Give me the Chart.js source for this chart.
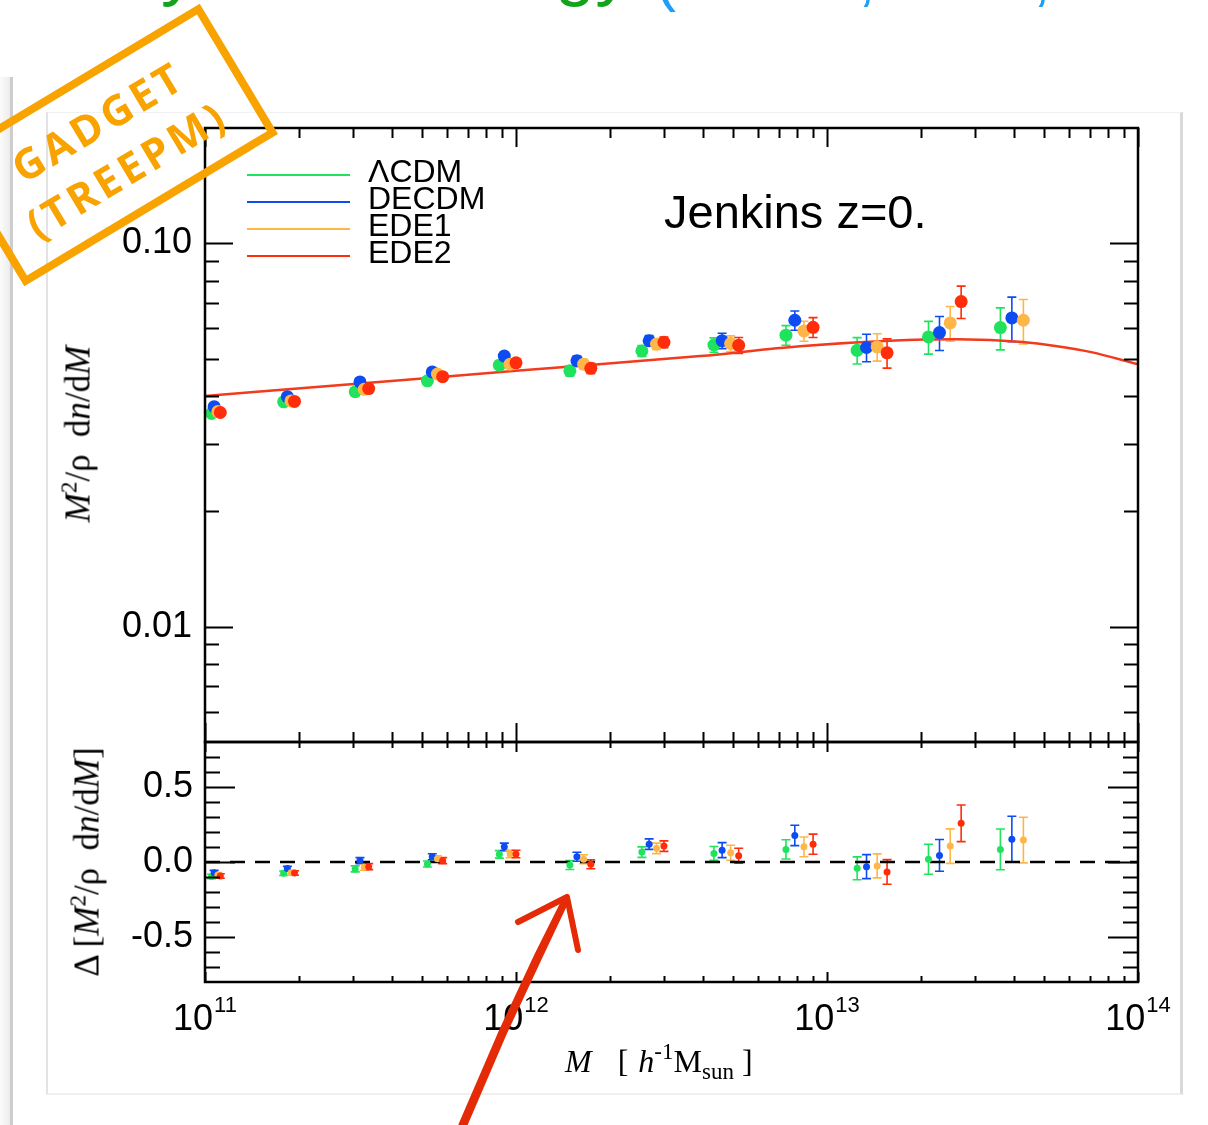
<!DOCTYPE html>
<html lang="en">
<head>
<meta charset="utf-8">
<title>Jenkins z=0 - mass function</title>
<script src="https://cdn.jsdelivr.net/npm/chart.js@4.4.1/dist/chart.umd.min.js"></script>
<style>
  html, body { margin: 0; padding: 0; background: #fff; }
  body { position: relative; width: 1208px; height: 1125px; overflow: hidden; font-family: "Liberation Sans", Arial, sans-serif; }
  .abs { position: absolute; white-space: nowrap; }
  #leftBar { left: 0; top: 77px; width: 10px; height: 1048px; background: linear-gradient(to right, #fbfbfb, #ececec); border-right: 3px solid #cdcdcd; z-index: 0; }
  #card { left: 46px; top: 112px; width: 1137px; height: 983px; box-sizing: border-box; border-left: 2px solid #e3e3e3; border-top: 1px solid #f1f1f1; border-right: 3px solid #d9d9d9; border-bottom: 2px solid #efefef; z-index: 0; }
  canvas { position: absolute; left: 0; z-index: 1; }
  #topChart { top: 0; }
  #bottomChart { top: 700px; }
  .heading { line-height: 1; z-index: 2; }
  .green { color: #14a31c; }
  .blue { color: #1e9dfb; }
  #jenkins { left: 664px; top: 188px; font-size: 47px; line-height: 47px; color: #000; z-index: 2; }
  .legLine { position: absolute; left: 247px; width: 103px; height: 2px; z-index: 2; }
  .legText { position: absolute; left: 368px; font-size: 32px; line-height: 32px; color: #000; z-index: 2; }
  .serif { font-family: "Liberation Serif", "Times New Roman", serif; color: #000; z-index: 2; }
  .serif sup { font-size: 23px; position: relative; top: -13px; vertical-align: baseline; }
  .serif sub { font-size: 23px; position: relative; top: 7px; vertical-align: baseline; }
  .gap { display: inline-block; }
  #xTitle { left: 565px; top: 1045px; font-size: 32px; line-height: 32px; }
  .yTitle { font-size: 35px; line-height: 35px; transform: translate(-50%, -50%) rotate(-90deg); }
  #yTitleTop { left: 80px; top: 434px; }
  #yTitleBottom { left: 89px; top: 862px; }
  #stamp { left: 112px; top: 145px; width: 280px; height: 136px; border: 8px solid #f8a300; color: #f8a300;
           transform: translate(-50%, -50%) rotate(-31deg); font-family: "Open Sans", sans-serif; font-weight: 700;
           font-size: 42px; line-height: 56px; letter-spacing: 4px; text-align: center; display: flex;
           flex-direction: column; justify-content: center; z-index: 3; }
  #arrow { position: absolute; left: 0; top: 0; z-index: 3; }
</style>
</head>
<body>
<div id="leftBar" class="abs"></div>
<div id="card" class="abs"></div>

<div class="abs heading green" style="left:33px; top:-69px; font-size:72px;">Early</div>
<div class="abs heading green" style="left:231px; top:-69px; font-size:72px;">Dark Energy</div>
<div class="abs heading blue" style="left:655px; top:-54px; font-size:63px;">(Grossi, Baldi, Mainini)</div>

<canvas id="topChart" width="1208" height="800"></canvas>
<canvas id="bottomChart" width="1208" height="425"></canvas>

<div id="legend"></div>
<div id="jenkins" class="abs">Jenkins z=0.</div>

<div id="yTitleTop" class="abs serif yTitle"><i>M</i><sup>2</sup>/ρ&nbsp;&nbsp;d<i>n</i>/d<i>M</i></div>
<div id="yTitleBottom" class="abs serif yTitle">Δ [<i>M</i><sup>2</sup>/ρ&nbsp;&nbsp;d<i>n</i>/d<i>M</i>]</div>
<div id="xTitle" class="abs serif"><i>M</i><span class="gap" style="width:26px"></span>[<span class="gap" style="width:10px"></span><i>h</i><sup>-1</sup>M<sub>sun</sub><span class="gap" style="width:8px"></span>]</div>

<div id="stamp" class="abs"><div>GADGET</div><div>(TREEPM)</div></div>

<svg id="arrow" width="1208" height="1125">
  <g fill="none" stroke="#e42a06" stroke-linecap="round" stroke-linejoin="round">
    <path d="M462 1125 L503 1030 L538 955 L566 899" stroke-width="7"/>
    <path d="M466 1125 L506 1032 L541 957 L567 902" stroke-width="3"/>
    <path d="M518 922 L567 897 L578 950" stroke-width="6"/>
  </g>
</svg>

<script>
// Legend / series
const seriesNames  = ['ΛCDM', 'DECDM', 'EDE1', 'EDE2'];
const seriesColors = ['#1fe35c', '#0d4cf0', '#ffb648', '#ff2d0a'];

// Halo mass of each bin [h^-1 Msun]
const massLCDM  = [1.05e11, 1.79e11, 3.04e11, 5.19e11, 8.84e11, 1.49e12, 2.54e12, 4.33e12, 7.38e12, 1.25e13, 2.12e13, 3.61e13];
const massDECDM = [1.07e11, 1.84e11, 3.15e11, 5.38e11, 9.17e11, 1.57e12, 2.68e12, 4.60e12, 7.88e12, 1.34e13, 2.30e13, 3.93e13];
const massEDE1  = [1.10e11, 1.89e11, 3.25e11, 5.59e11, 9.57e11, 1.65e12, 2.83e12, 4.90e12, 8.43e12, 1.45e13, 2.49e13, 4.28e13];
const massEDE2  = [1.12e11, 1.94e11, 3.36e11, 5.81e11, 1.00e12, 1.74e12, 2.99e12, 5.20e12, 9.02e12, 1.56e13, 2.70e13];

// M^2/rho dn/dM (upper panel)
const valLCDM  = [0.0360, 0.0386, 0.0410, 0.0438, 0.0481, 0.0465, 0.0524, 0.0543, 0.0576, 0.0526, 0.0570, 0.0603];
const valDECDM = [0.0375, 0.0398, 0.0435, 0.0462, 0.0508, 0.0494, 0.0557, 0.0557, 0.0630, 0.0535, 0.0585, 0.0639];
const valEDE1  = [0.0364, 0.0388, 0.0416, 0.0456, 0.0484, 0.0484, 0.0546, 0.0548, 0.0591, 0.0537, 0.0620, 0.0630];
const valEDE2  = [0.0362, 0.0387, 0.0418, 0.0449, 0.0488, 0.0472, 0.0552, 0.0542, 0.0604, 0.0518, 0.0705];

// Residuals w.r.t. Jenkins fit (lower panel)
const resLCDM  = [-0.097, -0.075, -0.046, -0.013, 0.051, -0.020, 0.066, 0.057, 0.084, -0.042, 0.018, 0.084];
const resDECDM = [-0.071, -0.044, 0.009, 0.035, 0.101, 0.035, 0.119, 0.079, 0.177, -0.031, 0.044, 0.152];
const resEDE1  = [-0.086, -0.071, -0.035, 0.022, 0.053, 0.018, 0.091, 0.062, 0.101, -0.026, 0.106, 0.146];
const resEDE2  = [-0.093, -0.073, -0.031, 0.009, 0.053, -0.015, 0.106, 0.042, 0.119, -0.066, 0.258];

// Error bar half widths on the residuals
const errLCDM  = [0.015, 0.015, 0.020, 0.020, 0.025, 0.030, 0.035, 0.046, 0.064, 0.076, 0.100, 0.136];
const errDECDM = [0.015, 0.015, 0.020, 0.020, 0.025, 0.030, 0.035, 0.050, 0.068, 0.080, 0.106, 0.153];
const errEDE1  = [0.015, 0.015, 0.020, 0.020, 0.025, 0.030, 0.035, 0.050, 0.066, 0.080, 0.115, 0.152];
const errEDE2  = [0.015, 0.015, 0.020, 0.020, 0.025, 0.030, 0.035, 0.050, 0.067, 0.082, 0.122];

// Jenkins fit curve
const fitMass  = [1e11, 3.15e11, 1e12, 3.91e12, 8.18e12, 1.59e13, 2.62e13, 4.27e13, 5.49e13, 7.01e13, 1e14];
const fitValue = [0.0400, 0.0431, 0.0465, 0.0508, 0.0539, 0.0557, 0.0562, 0.0553, 0.0539, 0.0521, 0.0484];

// Ticks
const xMajorTicks = [1e11, 1e12, 1e13, 1e14];
const xMinorTicks = [2e11, 3e11, 4e11, 5e11, 6e11, 7e11, 8e11, 9e11,
                     2e12, 3e12, 4e12, 5e12, 6e12, 7e12, 8e12, 9e12,
                     2e13, 3e13, 4e13, 5e13, 6e13, 7e13, 8e13, 9e13];
const xTickExponents = ['11', '12', '13', '14'];
const topMajorTicks = [0.01, 0.1];
const topMinorTicks = [0.006, 0.007, 0.008, 0.009, 0.02, 0.03, 0.04, 0.05, 0.06, 0.07, 0.08, 0.09];
const topTickLabels = ['0.01', '0.10'];
const bottomMajorTicks = [-0.5, 0, 0.5];
const bottomMinorTicks = [-0.7, -0.6, -0.4, -0.3, -0.2, -0.1, 0.1, 0.2, 0.3, 0.4, 0.6, 0.7];
const bottomTickLabels = ['-0.5', '0.0', '0.5'];

const series = [
    { name: seriesNames[0], color: seriesColors[0], mass: massLCDM,  value: valLCDM,  res: resLCDM,  err: errLCDM },
    { name: seriesNames[1], color: seriesColors[1], mass: massDECDM, value: valDECDM, res: resDECDM, err: errDECDM },
    { name: seriesNames[2], color: seriesColors[2], mass: massEDE1,  value: valEDE1,  res: resEDE1,  err: errEDE1 },
    { name: seriesNames[3], color: seriesColors[3], mass: massEDE2,  value: valEDE2,  res: resEDE2,  err: errEDE2 }
];

const SANS = '"Liberation Sans", Arial, sans-serif';
Chart.defaults.font.family = SANS;
Chart.defaults.color = '#000';

document.addEventListener('DOMContentLoaded', function() {
    buildLegend();
    createMassFunctionChart();
    createResidualChart();
});

// Error bars drawn under the points
const errorBars = {
    id: 'errorBars',
    beforeDatasetsDraw(chart) {
        const { ctx, scales: { x, y } } = chart;
        ctx.save();
        ctx.lineWidth = 1.6;
        chart.data.datasets.forEach(ds => {
            if (!ds.yLo) return;
            ctx.strokeStyle = ds.borderColor;
            ds.data.forEach((p, j) => {
                const px = x.getPixelForValue(p.x);
                const top = y.getPixelForValue(ds.yHi[j]);
                const bot = y.getPixelForValue(ds.yLo[j]);
                ctx.beginPath();
                ctx.moveTo(px, top); ctx.lineTo(px, bot);
                ctx.moveTo(px - 4.5, top); ctx.lineTo(px + 4.5, top);
                ctx.moveTo(px - 4.5, bot); ctx.lineTo(px + 4.5, bot);
                ctx.stroke();
            });
        });
        ctx.restore();
    }
};

// Box around the panel with inward ticks on the four sides
const panelFrame = {
    id: 'panelFrame',
    afterDraw(chart, args, opts) {
        const { ctx, chartArea: a, scales: { x, y } } = chart;
        ctx.save();
        ctx.strokeStyle = '#000';
        ctx.lineWidth = 2;
        ctx.beginPath();
        const xTick = (v, lenTop, lenBottom) => {
            const px = Math.round(x.getPixelForValue(v)) + 0.5;
            ctx.moveTo(px, a.top); ctx.lineTo(px, a.top + lenTop);
            ctx.moveTo(px, a.bottom); ctx.lineTo(px, a.bottom - lenBottom);
        };
        const yTick = (v, len) => {
            const py = Math.round(y.getPixelForValue(v)) + 0.5;
            ctx.moveTo(a.left, py); ctx.lineTo(a.left + len, py);
            ctx.moveTo(a.right, py); ctx.lineTo(a.right - len, py);
        };
        xMinorTicks.forEach(v => xTick(v, opts.xMinorTop, opts.xMinorBottom));
        xMajorTicks.forEach(v => xTick(v, opts.xMajorTop, opts.xMajorBottom));
        opts.yMinor.forEach(v => yTick(v, opts.yMinorLen));
        opts.yMajor.forEach(v => yTick(v, opts.yMajorLen));
        ctx.stroke();
        ctx.lineWidth = 2.5;
        ctx.strokeRect(a.left, a.top, a.right - a.left, a.bottom - a.top);

        if (opts.xLabels) {
            ctx.fillStyle = '#000';
            ctx.textAlign = 'left';
            ctx.textBaseline = 'alphabetic';
            xMajorTicks.forEach((v, i) => {
                const px = x.getPixelForValue(v);
                ctx.font = '36px ' + SANS;
                const wBase = ctx.measureText('10').width;
                ctx.font = '22px ' + SANS;
                const wExp = ctx.measureText(xTickExponents[i]).width;
                const left = px - (wBase + wExp + 1) / 2;
                ctx.font = '36px ' + SANS;
                ctx.fillText('10', left, a.bottom + 48);
                ctx.font = '22px ' + SANS;
                ctx.fillText(xTickExponents[i], left + wBase + 1, a.bottom + 30);
            });
        }
        ctx.restore();
    }
};

function buildLegend() {
    const legend = document.getElementById('legend');
    series.forEach((s, i) => {
        const lineY = 175 + i * 26.9;
        const line = document.createElement('div');
        line.className = 'legLine';
        line.style.top = (lineY - 1) + 'px';
        line.style.background = s.color;
        legend.appendChild(line);
        const text = document.createElement('div');
        text.className = 'legText';
        text.style.top = (lineY + 7 - 27) + 'px';
        text.textContent = s.name;
        legend.appendChild(text);
    });
}

function baseOptions(padding) {
    return {
        responsive: false,
        animation: false,
        events: [],
        layout: { padding: padding },
        plugins: { legend: { display: false }, tooltip: { enabled: false } }
    };
}

function createMassFunctionChart() {
    const ctx = document.getElementById('topChart').getContext('2d');

    const datasets = series.map((s, i) => ({
        label: s.name,
        data: s.mass.map((m, j) => ({ x: m, y: s.value[j] })),
        yLo: s.value.map((v, j) => v * (1 - s.err[j] / (1 + s.res[j]))),
        yHi: s.value.map((v, j) => v * (1 + s.err[j] / (1 + s.res[j]))),
        backgroundColor: s.color,
        borderColor: s.color,
        borderWidth: 0,
        pointRadius: 6.5,
        pointHoverRadius: 6.5,
        order: series.length - i
    }));
    datasets.push({
        label: 'Jenkins',
        data: fitMass.map((m, j) => ({ x: m, y: fitValue[j] })),
        showLine: true,
        borderColor: '#f23a1c',
        borderWidth: 2.5,
        pointRadius: 0,
        cubicInterpolationMode: 'monotone',
        order: 10
    });

    // canvas is 800 tall: 58 px of bottom padding puts the panel bottom at y = 742
    const options = baseOptions({ left: 0, right: 70, top: 128, bottom: 58 });
    options.scales = {
        x: { type: 'logarithmic', min: 1e11, max: 1e14, display: false },
        y: {
            type: 'logarithmic', min: 0.005, max: 0.2,
            afterFit: s => { s.width = 205; },
            afterBuildTicks: s => { s.ticks = topMajorTicks.map(v => ({ value: v })); },
            grid: { display: false, drawTicks: false },
            border: { display: false },
            ticks: { autoSkip: false, padding: 13, color: '#000', font: { size: 36 },
                     callback: (v, i) => topTickLabels[i] }
        }
    };
    options.plugins.panelFrame = {
        xMinorTop: 10, xMajorTop: 19, xMinorBottom: 10, xMajorBottom: 19,
        yMinor: topMinorTicks, yMajor: topMajorTicks, yMinorLen: 14, yMajorLen: 28, xLabels: false
    };

    new Chart(ctx, { type: 'scatter', data: { datasets: datasets }, options: options, plugins: [errorBars, panelFrame] });
}

function createResidualChart() {
    const ctx = document.getElementById('bottomChart').getContext('2d');

    const datasets = series.map((s, i) => ({
        label: s.name,
        data: s.mass.map((m, j) => ({ x: m, y: s.res[j] })),
        yLo: s.res.map((r, j) => r - s.err[j]),
        yHi: s.res.map((r, j) => r + s.err[j]),
        backgroundColor: s.color,
        borderColor: s.color,
        borderWidth: 0,
        pointRadius: 3.5,
        pointHoverRadius: 3.5,
        order: series.length - i
    }));
    datasets.push({
        label: 'zero',
        data: [{ x: xMajorTicks[0], y: 0 }, { x: xMajorTicks[3], y: 0 }],
        showLine: true,
        borderColor: '#000',
        borderWidth: 2.5,
        borderDash: [15, 10],
        pointRadius: 0,
        order: 10
    });

    const options = baseOptions({ left: 0, right: 70, top: 42, bottom: 143 });
    options.scales = {
        x: { type: 'logarithmic', min: 1e11, max: 1e14, display: false },
        y: {
            type: 'linear', min: -0.8, max: 0.8,
            afterFit: s => { s.width = 205; },
            afterBuildTicks: s => { s.ticks = bottomMajorTicks.map(v => ({ value: v })); },
            grid: { display: false, drawTicks: false },
            border: { display: false },
            ticks: { autoSkip: false, padding: 12, color: '#000', font: { size: 36 },
                     callback: (v, i) => bottomTickLabels[i] }
        }
    };
    options.plugins.panelFrame = {
        xMinorTop: 6, xMajorTop: 10, xMinorBottom: 6, xMajorBottom: 10,
        yMinor: bottomMinorTicks, yMajor: bottomMajorTicks, yMinorLen: 15, yMajorLen: 30, xLabels: true
    };

    new Chart(ctx, { type: 'scatter', data: { datasets: datasets }, options: options, plugins: [errorBars, panelFrame] });
}
</script>
</body>
</html>
